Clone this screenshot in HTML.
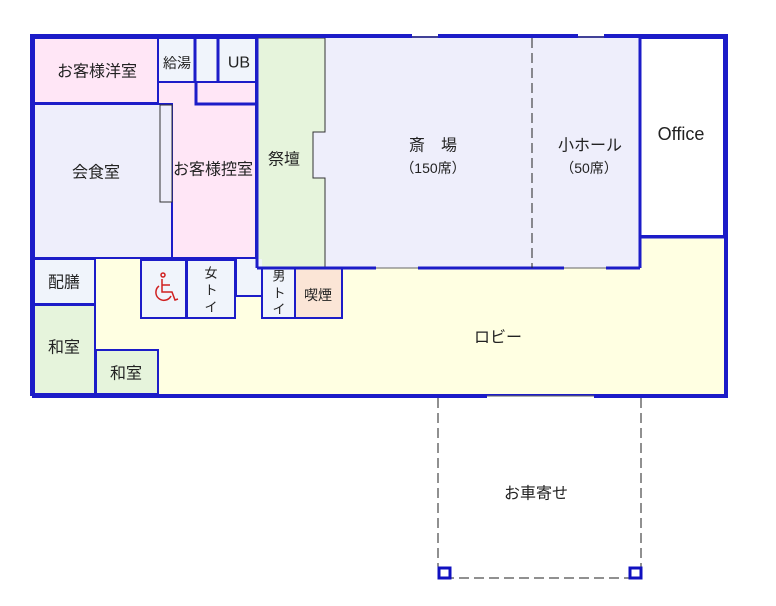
<!DOCTYPE html>
<html><head><meta charset="utf-8"><style>
html,body{margin:0;padding:0;background:#fff;width:776px;height:606px;overflow:hidden}
svg text{font-family:"Liberation Sans","Noto Sans CJK JP",sans-serif;fill:#222;text-anchor:middle;dominant-baseline:central}
</style></head><body>
<svg width="776" height="606" viewBox="0 0 776 606" xmlns="http://www.w3.org/2000/svg">
<g stroke="#1c1cc8" stroke-width="2">
<rect x="33" y="37" width="692" height="358" fill="#ffffe2"/>
<rect x="640" y="38" width="84" height="198" fill="#ffffff"/>
<rect x="313" y="38" width="326" height="230" fill="#eeeefb" stroke="none"/>
<path d="M257 38 H325 V132 H313 V178 H325 V268 H257 Z" fill="#e6f4dc" stroke="#333" stroke-width="1"/>
<rect x="34" y="38" width="124" height="65" fill="#ffe6f6"/>
<rect x="158" y="38" width="98" height="220" fill="#ffe6f6"/>
<rect x="158" y="38" width="37" height="44" fill="#f0f4fb"/>
<rect x="195" y="38" width="23" height="44" fill="#f0f4fb"/>
<rect x="218" y="38" width="38" height="44" fill="#f0f4fb"/>
<rect x="34" y="104" width="138" height="154" fill="#eeeefb"/>
<rect x="160" y="105" width="12" height="97" fill="#eeeefb" stroke="#333" stroke-width="1"/>
<rect x="34" y="259" width="61" height="45" fill="#f0f4fb"/>
<rect x="34" y="305" width="61" height="89" fill="#e6f4dc"/>
<rect x="96" y="350" width="62" height="44" fill="#e6f4dc"/>
<rect x="236" y="259" width="26" height="37" fill="#f0f4fb" stroke="none"/>
<path d="M236 259 V296 H262" fill="none"/>
<rect x="141" y="260" width="45" height="58" fill="#f0f4fb"/>
<rect x="187" y="260" width="48" height="58" fill="#f0f4fb"/>
<rect x="262" y="268" width="33" height="50" fill="#f0f4fb"/>
<rect x="295" y="268" width="47" height="50" fill="#fbe5d6"/>
</g>
<g stroke="#1c1cc8" stroke-width="3" fill="none">
<path d="M196 82 V104 H256"/>
<path d="M195 38 V82 M218 38 V82"/>
<path d="M640 38 V268 M640 237 H724"/>
<path d="M257 38 V268"/>
<path d="M257 268 H376 M418 268 H564 M606 268 H640"/>
</g>
<line x1="532" y1="38" x2="532" y2="268" stroke="#222" stroke-width="1" stroke-dasharray="10,5"/>
<line x1="376" y1="268" x2="418" y2="268" stroke="#666" stroke-width="1"/>
<line x1="564" y1="268" x2="606" y2="268" stroke="#666" stroke-width="1"/>
<g fill="none" stroke="#1c1cc8" stroke-width="4">
<path d="M32 396 V36 H412 M438 36 H578 M604 36 H726 V396 H594 M487 396 H32"/>
</g>
<g stroke="#666" stroke-width="1">
<line x1="412" y1="37" x2="438" y2="37"/><line x1="578" y1="37" x2="604" y2="37"/>
<line x1="487" y1="396" x2="594" y2="396"/>
</g>
<g stroke="#222" stroke-width="1" stroke-dasharray="10,5" fill="none">
<path d="M438 398 V574 M641 398 V574 M444 578 H636"/>
</g>
<rect x="439" y="568" width="11" height="10" fill="#fff" stroke="#1010c0" stroke-width="3"/>
<rect x="630" y="568" width="11" height="10" fill="#fff" stroke="#1010c0" stroke-width="3"/>
<!-- wheelchair icon -->
<g stroke="#d02020" stroke-width="1.5" fill="none">
<circle cx="163" cy="275" r="2"/>
<path d="M162 279 V292 H172 L175 300 L178 299"/>
<path d="M162 285 H170"/>
<path d="M159 286 A8 8 0 1 0 171 296"/>
</g>
<g font-size="16">
<text x="97" y="72">お客様洋室</text>
<text x="96" y="173">会食室</text>
<text x="213" y="170">お客様控室</text>
<text x="284" y="160">祭壇</text>
<text x="433" y="146">斎　場</text>
<text x="590" y="146">小ホール</text>
<text x="681" y="134" font-size="18">Office</text>
<text x="64" y="283">配膳</text>
<text x="64" y="348">和室</text>
<text x="126" y="374">和室</text>
<text x="498" y="338">ロビー</text>
<text x="536" y="494">お車寄せ</text>
</g>
<g font-size="14">
<text x="177" y="63">給湯</text>
<text x="239" y="63" font-size="16">UB</text>
<text x="318" y="295">喫煙</text>
<text x="433" y="168">（150席）</text>
<text x="589" y="168">（50席）</text>
</g>
<g font-size="13">
<text x="211" y="273">女</text><text x="211" y="290">ト</text><text x="211" y="307">イ</text>
<text x="279" y="276">男</text><text x="279" y="293">ト</text><text x="279" y="309">イ</text>
</g>
</svg>
</body></html>
